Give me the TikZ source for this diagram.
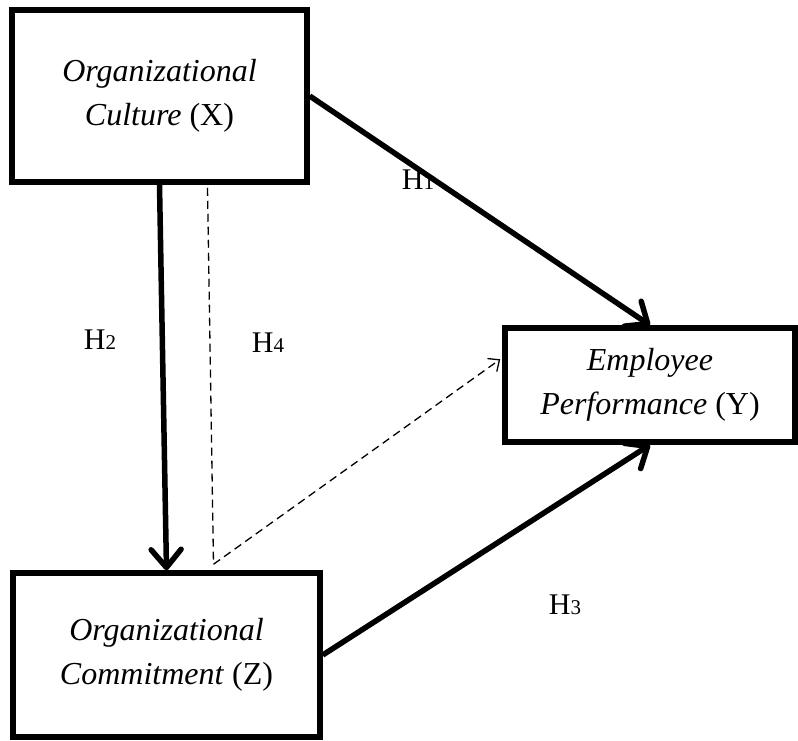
\documentclass[tikz,border=0pt]{standalone}
\usepackage{fontspec}
\setmainfont{Liberation Serif}
\usetikzlibrary{arrows.meta,calc}
\begin{document}
\begin{tikzpicture}[x=1pt,y=-1pt,
  box/.style={draw,line width=5.5pt,rectangle,align=center,inner sep=0pt,
    font=\fontsize{32}{44}\selectfont},
  thick arrow/.style={line width=5.5pt,-{Straight Barb[length=18pt,width=30pt,line width=5.5pt,round]}},
  dash arrow/.style={line width=1.3pt,dash pattern=on 8pt off 5pt,-{Straight Barb[length=9pt,width=16pt,line width=1.3pt]}},
  dash line/.style={line width=1.3pt,dash pattern=on 8pt off 5pt},
  hlab/.style={font=\fontsize{30}{30}\selectfont,inner sep=0pt}]
\useasboundingbox (0,0) rectangle (798,740);
\node[box,minimum width=295pt,minimum height=172pt] (X) at (159.5,96) {\textit{Organizational}\\\textit{Culture} (X)};
\node[box,minimum width=290pt,minimum height=114pt] (Y) at (650,385) {\textit{Employee}\\\textit{Performance} (Y)};
\node[box,minimum width=307pt,minimum height=164pt] (Z) at (166.5,655) {\textit{Organizational}\\\textit{Commitment} (Z)};
\coordinate (d1) at ($(X.south)+(48,3)$);
\coordinate (d2) at ($(Z.north)+(47,-6)$);
\coordinate (d3) at ($(Y.north west)+(-2,34)$);
\draw[thick arrow] (X.east) -- (Y.north);
\draw[thick arrow] (X.south) -- (Z.north);
\draw[thick arrow] (Z.east) -- (Y.south);
\draw[dash line] (d1) -- (d2);
\draw[dash arrow] (d2) -- (d3);
\node[hlab] (h1) at (418,180) {H{\fontsize{21}{21}\selectfont 1}};
\node[hlab] (h2) at (100,340) {H{\fontsize{21}{21}\selectfont 2}};
\node[hlab] (h4) at (268,343) {H{\fontsize{21}{21}\selectfont 4}};
\node[hlab] (h3) at (565,605) {H{\fontsize{21}{21}\selectfont 3}};
\end{tikzpicture}
\end{document}
